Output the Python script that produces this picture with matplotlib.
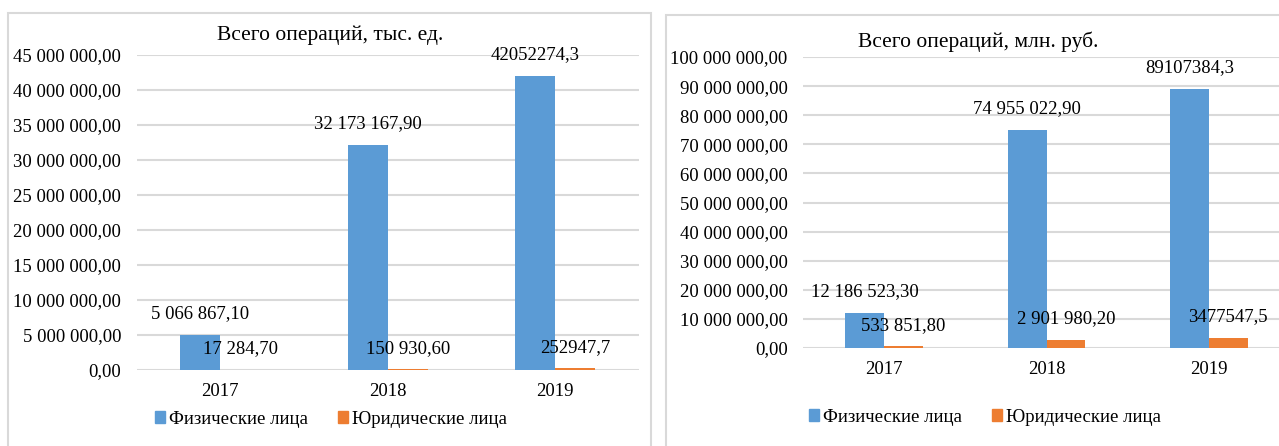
import matplotlib
matplotlib.use("Agg")
import matplotlib.pyplot as plt
from matplotlib.patches import Rectangle, Patch
from matplotlib.ticker import FuncFormatter
import numpy as np

plt.rcParams['font.family'] = ['Liberation Serif', 'DejaVu Serif']

years = ['2017', '2018', '2019']

# Всего операций, тыс. ед.
count_phys = [5066867.10, 32173167.90, 42052274.3]
count_jur = [17284.70, 150930.60, 252947.7]
count_phys_lbl = ['5 066 867,10', '32 173 167,90', '42052274,3']
count_jur_lbl = ['17 284,70', '150 930,60', '252947,7']

# Всего операций, млн. руб.
sum_phys = [12186523.30, 74955022.90, 89107384.3]
sum_jur = [533851.80, 2901980.20, 3477547.5]
sum_phys_lbl = ['12 186 523,30', '74 955 022,90', '89107384,3']
sum_jur_lbl = ['533 851,80', '2 901 980,20', '3477547,5']

BLUE = '#5b9bd5'
ORANGE = '#ed7d31'
GRID = '#d9d9d9'
FS = 13.5

W, H = 1279, 446
fig = plt.figure(figsize=(W / 100, H / 100), dpi=100)


def rub(v, pos):
    s = '{:,.2f}'.format(v).replace(',', ' ').replace('.', ',')
    return s


def panel(rect, title, title_xy, phys, jur, phys_lbl, jur_lbl, ymax, step, legend_xy):
    ax = fig.add_axes(rect)
    x = np.arange(len(years))
    w = 0.239
    ax.bar(x - w / 2, phys, w, color=BLUE, zorder=3)
    ax.bar(x + w / 2, jur, w, color=ORANGE, zorder=3)
    for i in range(len(years)):
        ax.annotate(phys_lbl[i], (x[i] - w / 2, phys[i]), xytext=(0, 15),
                    textcoords='offset points', ha='center', va='center', fontsize=FS, zorder=5)
        ax.annotate(jur_lbl[i], (x[i] + w / 2, jur[i]), xytext=(0, 15),
                    textcoords='offset points', ha='center', va='center', fontsize=FS, zorder=5)
    ax.set_xlim(-0.5, 2.5)
    ax.set_ylim(0, ymax)
    ax.set_yticks(np.arange(0, ymax + 1, step))
    ax.yaxis.set_major_formatter(FuncFormatter(rub))
    ax.set_xticks(x)
    ax.set_xticklabels(years)
    ax.tick_params(axis='both', length=0, labelsize=FS)
    ax.tick_params(axis='y', pad=11)
    ax.tick_params(axis='x', pad=9)
    ax.grid(axis='y', color=GRID, linewidth=1.5, zorder=0)
    for s in ax.spines.values():
        s.set_visible(False)
    fig.text(title_xy[0] / W, 1 - title_xy[1] / H, title, ha='center', va='center', fontsize=15.5)
    handles = [Patch(color=BLUE, label='Физические лица'),
               Patch(color=ORANGE, label='Юридические лица')]
    fig.legend(handles=handles, loc='center', bbox_to_anchor=(legend_xy[0] / W, 1 - legend_xy[1] / H),
               ncol=2, frameon=False, fontsize=FS, handlelength=0.55, handleheight=0.55,
               handletextpad=0.2, columnspacing=1.6)
    return ax


panel([136.5 / W, 1 - 370 / H, (639 - 136.5) / W, (370 - 55) / H],
      'Всего операций, тыс. ед.', (330, 35),
      count_phys, count_jur, count_phys_lbl, count_jur_lbl, 45e6, 5e6, (331, 419))

panel([803 / W, 1 - 348 / H, (1290 - 803) / W, (348 - 57) / H],
      'Всего операций, млн. руб.', (978, 42),
      sum_phys, sum_jur, sum_phys_lbl, sum_jur_lbl, 100e6, 10e6, (985, 417))

# рамки диаграмм
fig.patches.append(Rectangle((8 / W, -0.1), (651 - 8) / W, 1.1 - 13 / H,
                             transform=fig.transFigure, fill=False, edgecolor=GRID, linewidth=1.5))
fig.patches.append(Rectangle((666 / W, -0.1), 0.6, 1.1 - 15 / H,
                             transform=fig.transFigure, fill=False, edgecolor=GRID, linewidth=1.5))

fig.savefig('out.png', dpi=100)
